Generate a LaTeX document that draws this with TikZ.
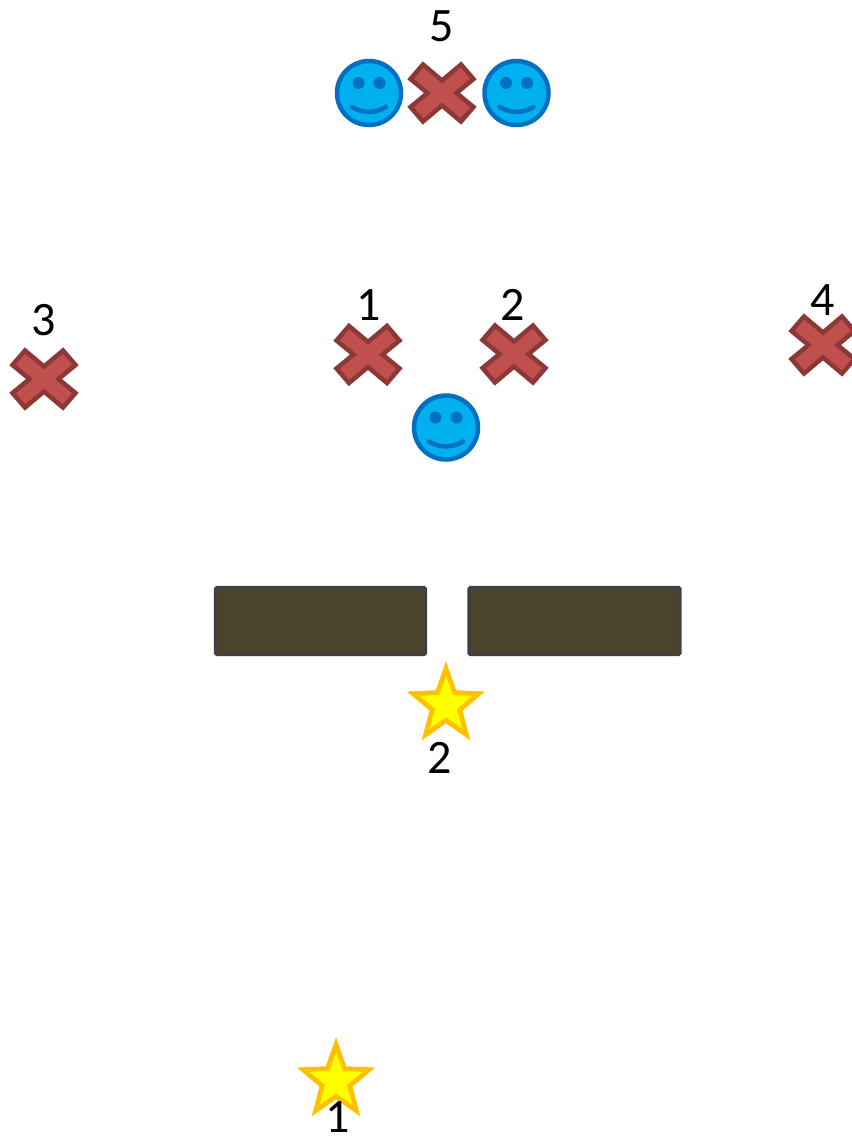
\documentclass[tikz,border=0pt]{standalone}
\usepackage{fontspec}
\setmainfont{Carlito}
\definecolor{smfill}{HTML}{00B0F0}
\definecolor{smline}{HTML}{0070C0}
\definecolor{xfill}{HTML}{C0504D}
\definecolor{xline}{HTML}{8C3836}
\definecolor{stfill}{HTML}{FFFF00}
\definecolor{stline}{HTML}{FFC000}
\definecolor{wallfill}{HTML}{4A452A}
\definecolor{wallline}{HTML}{404040}
\tikzset{
  x=1pt,y=-1pt,
  lbl/.style={font=\fontsize{48}{48}\selectfont,text=black,inner sep=0pt,anchor=center},
  wall/.style={fill=wallfill,draw=wallline,line width=3.4pt,rounded corners=1.5pt},
  smiley/.pic={
    \draw[fill=smfill,draw=smline,line width=4.5pt] (0,0) circle[radius=32];
    \fill[smline] (-10.5,-10) circle[radius=6] (10.5,-10) circle[radius=6];
    \draw[smline,line width=4.5pt,line cap=round] (-17,14) .. controls (-6,20.5) and (6,20.5) .. (17,14);
  },
  crossmark/.pic={
    \draw[fill=xfill,draw=xline,line width=4.5pt,miter limit=4]
      (0,-12.5) -- (19,-28.5) -- (31.5,-14) -- (14.5,0) -- (31.5,14) -- (19,28.5) -- (0,12.5)
      -- (-19,28.5) -- (-31.5,14) -- (-14.5,0) -- (-31.5,-14) -- (-19,-28.5) -- cycle;
  },
  starmark/.pic={
    \draw[fill=stfill,draw=stline,line width=4.8pt,miter limit=10,yscale=1.06]
      (90:-34.5) -- (54:-14.5) -- (18:-34.5) -- (-18:-14.5) -- (-54:-34.5) -- (-90:-14.5)
      -- (-126:-34.5) -- (-162:-14.5) -- (-198:-34.5) -- (-234:-14.5) -- cycle;
  },
}
\begin{document}
\begin{tikzpicture}
\useasboundingbox (0,0) rectangle (852,1136);
\fill[white] (0,0) rectangle (852,1136);
\draw[wall] (215.5,587.5) rectangle (425.5,654.5);
\draw[wall] (469,587.5) rectangle (680,654.5);
\pic at (369,93) {smiley};
\pic at (516.5,93) {smiley};
\pic at (446,427.5) {smiley};
\pic at (442,93) {crossmark};
\pic at (368,354.5) {crossmark};
\pic at (514,354) {crossmark};
\pic at (44,379) {crossmark};
\pic at (823,345) {crossmark};
\pic at (446,705) {starmark};
\pic at (336,1081) {starmark};
\node[lbl] (n5) at (442,26) {5};
\node[lbl] (n1a) at (369,305) {1};
\node[lbl] (n2a) at (513,305) {2};
\node[lbl] (n3) at (44,320) {3};
\node[lbl] (n4) at (823,300) {4};
\node[lbl] (n2b) at (440,758) {2};
\node[lbl] (n1b) at (337.5,1117.5) {1};
\end{tikzpicture}
\end{document}
